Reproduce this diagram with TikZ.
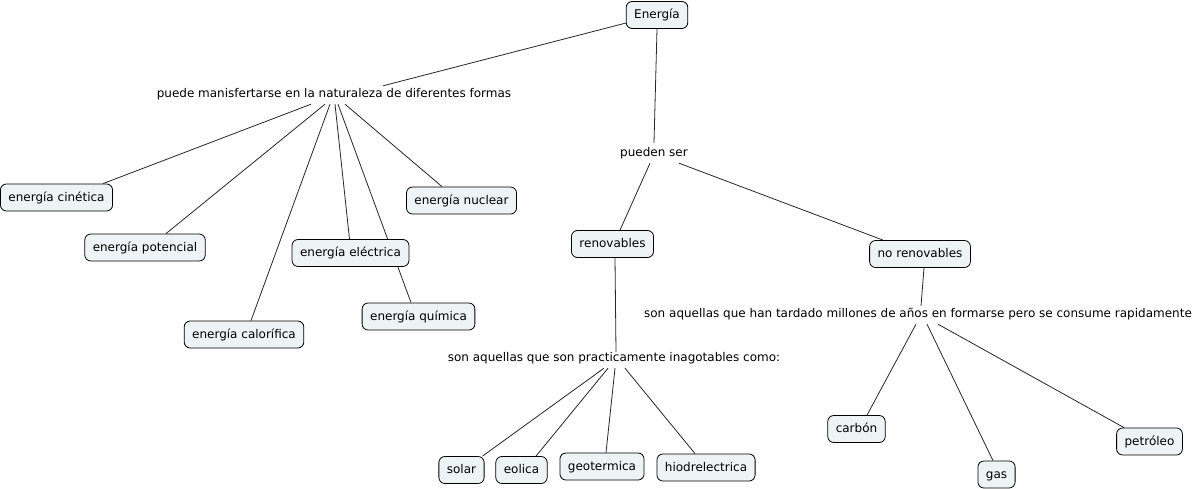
\documentclass[tikz,border=0pt]{standalone}
\usepackage{fontspec}
\setmainfont{DejaVu Sans}
\usetikzlibrary{calc}
\pgfdeclarelayer{background}
\pgfsetlayers{background,main}
\definecolor{boxfill}{HTML}{EEF3F5}
\tikzset{
  concept/.style={draw=black, line width=0.8pt, fill=boxfill, rounded corners=6pt,
    minimum height=27pt, inner xsep=8pt, inner ysep=0pt,
    font=\fontsize{12}{14}\selectfont, text height=10pt, text depth=2.5pt},
  linking/.style={inner sep=0pt, minimum height=20pt,
    font=\fontsize{12}{14}\selectfont, text height=10pt, text depth=2.5pt},
  conn/.style={draw=black!85, line width=0.8pt}
}
\begin{document}
\begin{tikzpicture}[x=1pt,y=-1pt]
\useasboundingbox (0,0) rectangle (1196,489);
% concepts
\node[concept] (energia) at (657,15) {Energía};
\node[linking] (puede) at (334,94) {puede manisfertarse en la naturaleza de diferentes formas};
\node[concept] (cin) at (56.5,197.5) {energía cinética};
\node[concept] (pot) at (145,247.5) {energía potencial};
\node[concept] (cal) at (244,334.5) {energía calorífica};
\node[concept] (ele) at (350.5,253) {energía eléctrica};
\node[concept] (qui) at (418.5,316.5) {energía química};
\node[concept] (nuc) at (461.5,200.5) {energía nuclear};
\node[linking] (pueden) at (654,153) {pueden ser};
\node[concept] (ren) at (612.5,244) {renovables};
\node[concept] (noren) at (920,254) {no renovables};
\node[linking] (tard) at (918,314) {son aquellas que han tardado millones de años en formarse pero se consume rapidamente};
\node[linking] (inag) at (614,358) {son aquellas que son practicamente inagotables como:};
\node[concept] (solar) at (461.5,470) {solar};
\node[concept] (eolica) at (521.5,470) {eolica};
\node[concept] (geo) at (602,466.5) {geotermica};
\node[concept] (hio) at (706,467.5) {hiodrelectrica};
\node[concept] (carbon) at (856.5,429) {carbón};
\node[concept] (gas) at (996.5,474.5) {gas};
\node[concept] (pet) at (1149.5,441.5) {petróleo};
% connectors
\begin{pgfonlayer}{background}
\draw[conn] ($(puede.north)+(49,2)$) -- (energia);
\draw[conn] ($(puede.south)+(-23,0)$) -- ($(cin.north)+(46.5,0)$);
\draw[conn] ($(puede.south)+(-9,0)$) -- ($(pot.north)+(21,0)$);
\draw[conn] ($(puede.south)+(-4,0)$) -- ($(cal.north)+(7,0)$);
\draw[conn] ($(puede.south)+(1,0)$) -- ($(ele.north)+(-1,0)$);
\draw[conn] ($(puede.south)+(4,0)$) -- ($(qui.north)+(-7.5,0)$);
\draw[conn] ($(puede.south)+(11,0)$) -- ($(nuc.north)+(-19.5,0)$);
\draw[conn] (energia.south) -- (pueden.north);
\draw[conn] ($(pueden.south)+(-4,0)$) -- ($(ren.north)+(7.5,0)$);
\draw[conn] ($(pueden.south)+(25,0)$) -- ($(noren.north)+(-37,0)$);
\draw[conn] ($(ren.south)+(2.5,0)$) -- ($(inag.north)+(2,4)$);
\draw[conn] ($(inag.south)+(-10,0)$) -- ($(solar.north)+(21,0)$);
\draw[conn] ($(inag.south)+(-6,0)$) -- ($(eolica.north)+(14.5,0)$);
\draw[conn] ($(inag.south)+(1,0)$) -- ($(geo.north)+(4,0)$);
\draw[conn] ($(inag.south)+(11,0)$) -- ($(hio.north)+(-11,0)$);
\draw[conn] ($(noren.south)+(4,0)$) -- ($(tard.north)+(3,2)$);
\draw[conn] ($(tard.south)+(-2,0)$) -- ($(carbon.north)+(10.5,0)$);
\draw[conn] ($(tard.south)+(9,0)$) -- ($(gas.north)+(-3.5,0)$);
\draw[conn] ($(tard.south)+(20,0)$) -- ($(pet.north)+(-25.5,0)$);
\end{pgfonlayer}
\end{tikzpicture}
\end{document}
